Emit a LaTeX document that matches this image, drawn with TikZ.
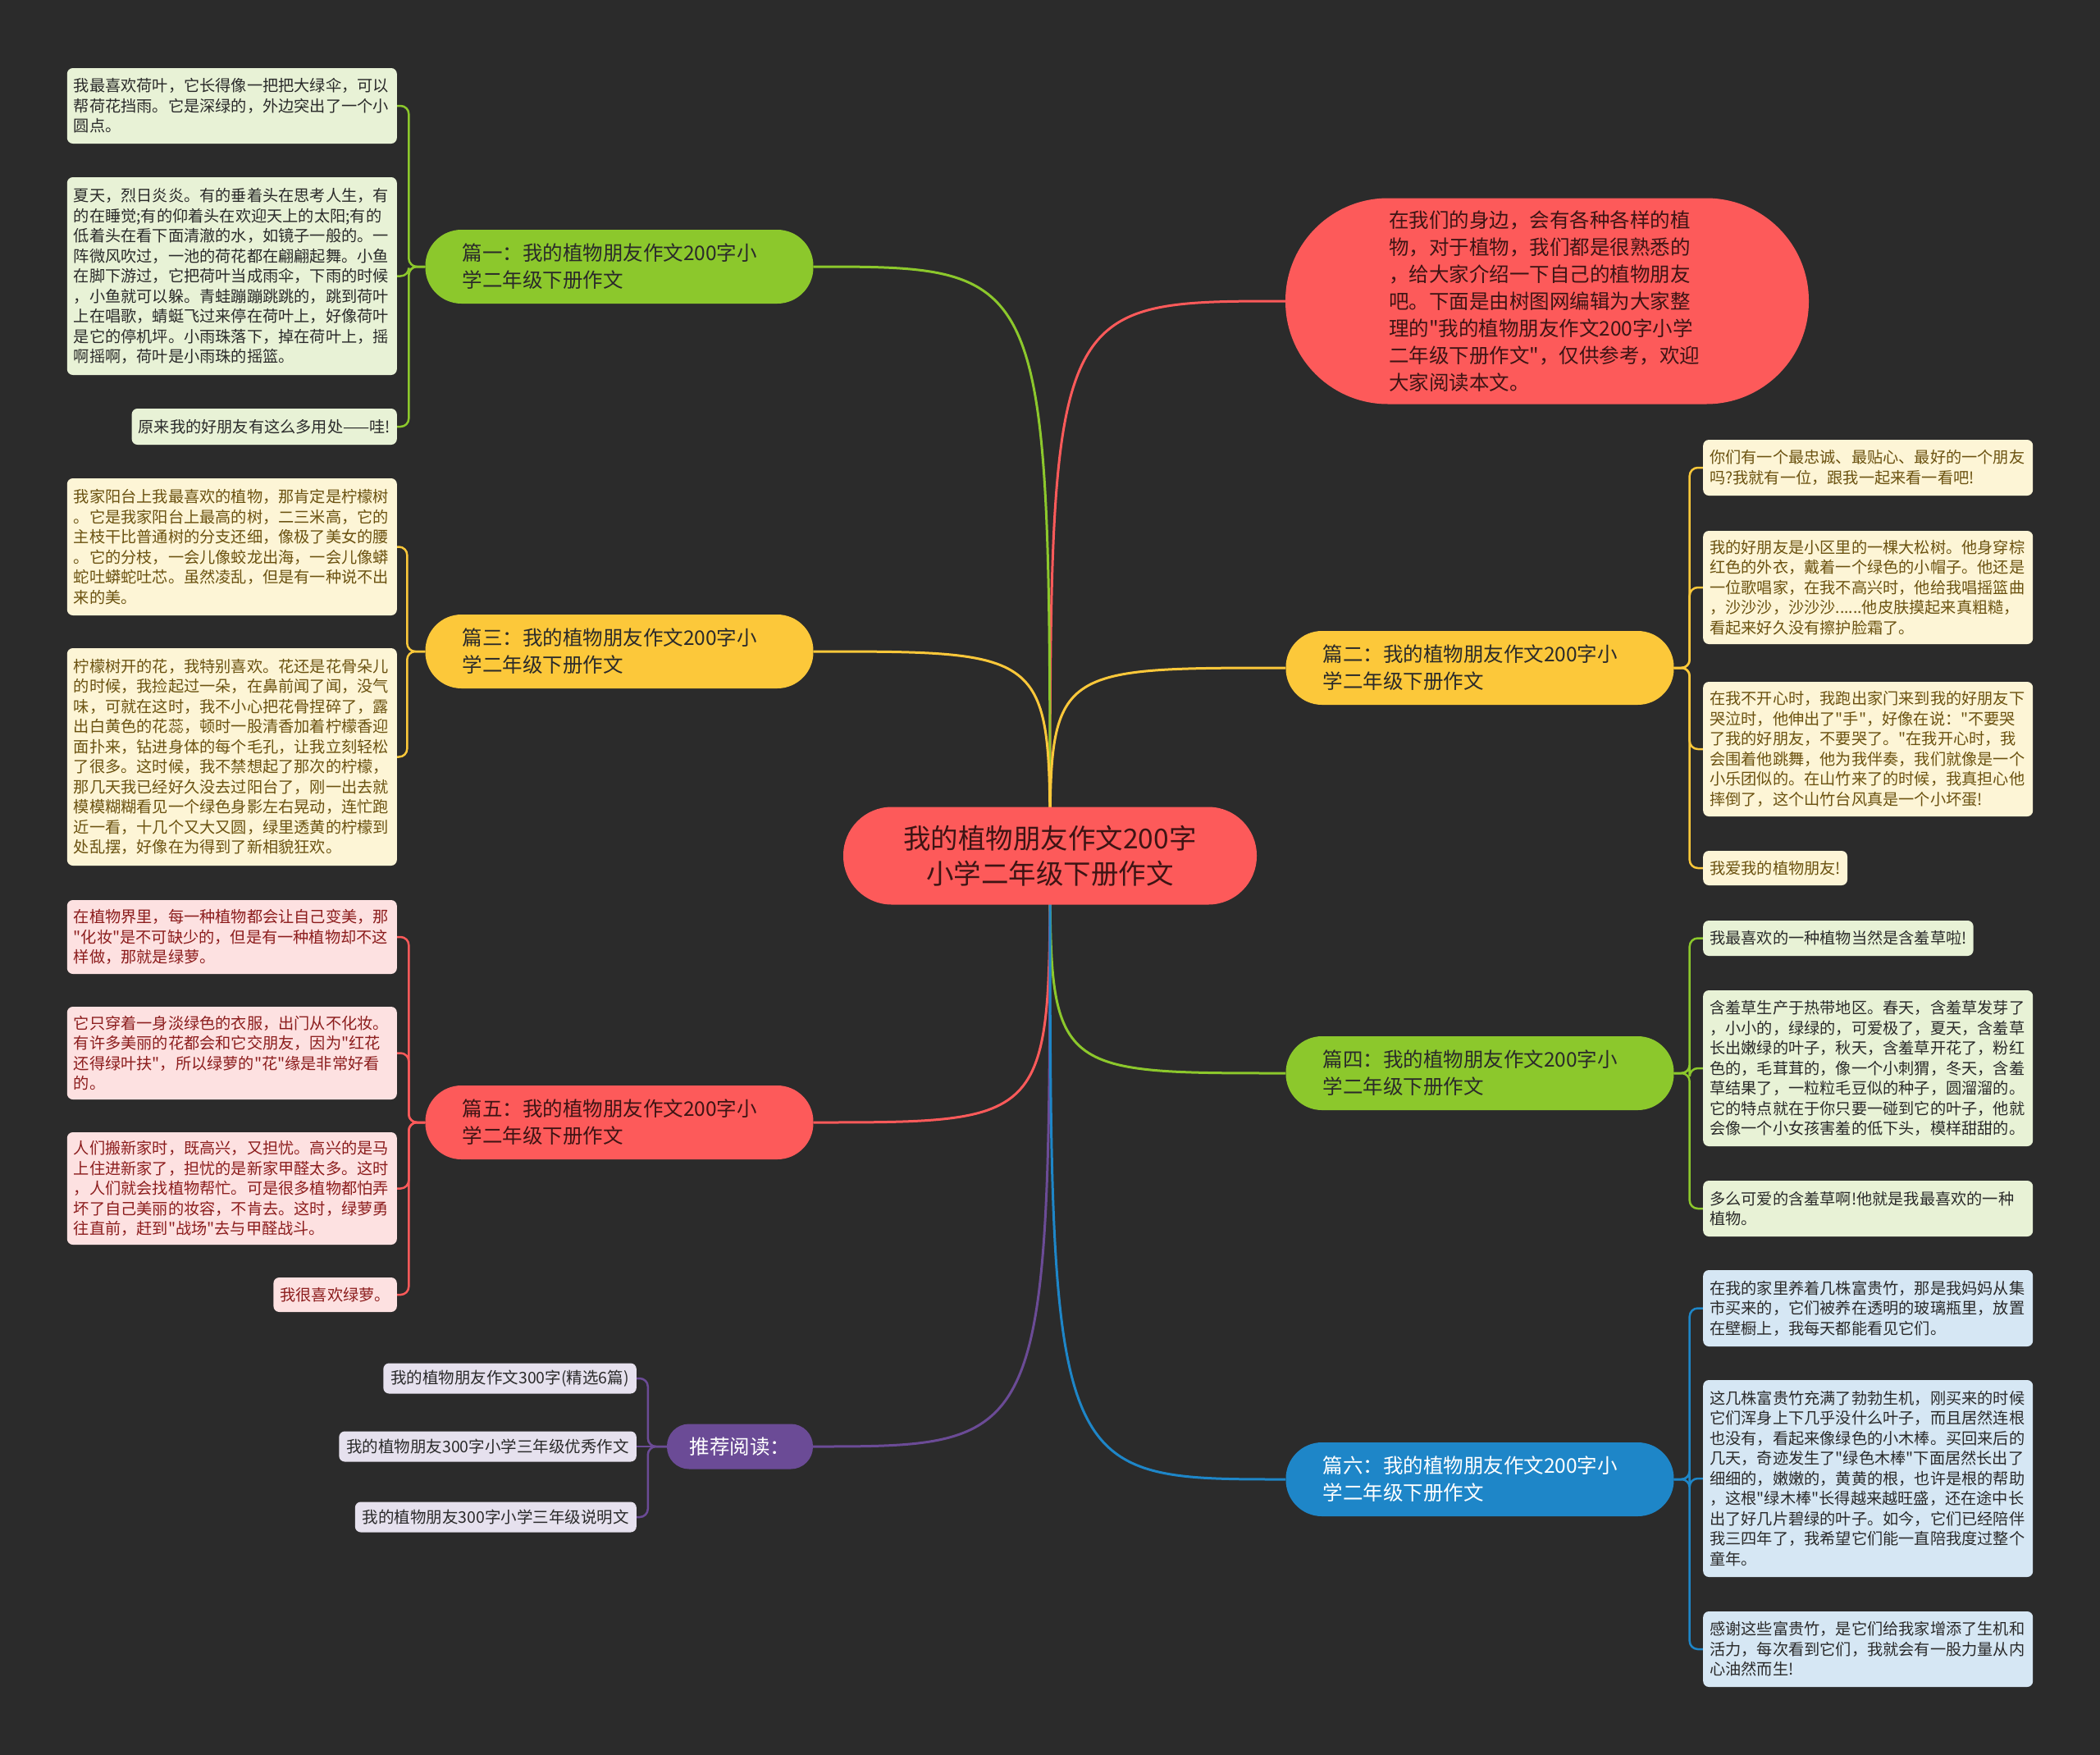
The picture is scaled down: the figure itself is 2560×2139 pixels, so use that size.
\documentclass[tikz,border=0pt]{standalone}
\usepackage{fontspec}
\newfontfamily\cjkf{Noto Sans CJK SC}
\usetikzlibrary{backgrounds}
\definecolor{bgc}{HTML}{2B2B2B}
\definecolor{grn}{HTML}{8CC82C}
\definecolor{yel}{HTML}{FCC83A}
\definecolor{red}{HTML}{FD5A5A}
\definecolor{blu}{HTML}{1E86C8}
\definecolor{pur}{HTML}{6B4B96}
\definecolor{gnf}{HTML}{E8F2D6}
\definecolor{ynf}{HTML}{FDF5D6}
\definecolor{pnf}{HTML}{FDE1E1}
\definecolor{bnf}{HTML}{D6E7F4}
\definecolor{rnf}{HTML}{E6E1EE}
\definecolor{dtxt}{HTML}{2A2A2A}
\definecolor{ytxt}{HTML}{6B5210}
\definecolor{ptxt}{HTML}{8C1D1D}
\definecolor{ctxt}{HTML}{3E1414}
\newcommand\fnote{\cjkf\fontsize{19.2pt}{24.5pt}\selectfont}
\newcommand\fbranch{\cjkf\fontsize{24.5pt}{33pt}\selectfont}
\newcommand\fcenter{\cjkf\fontsize{33.5pt}{43pt}\selectfont}
\newcommand\frec{\cjkf\fontsize{19.5pt}{24.5pt}\selectfont}
\tikzset{
  note/.style={rounded corners=7pt, inner xsep=8pt, inner ysep=2pt, align=left, font=\fnote},
  wide/.style={text width=386pt},
  gnote/.style={note, fill=gnf, text=dtxt},
  ynote/.style={note, fill=ynf, text=ytxt},
  pnote/.style={note, fill=pnf, text=ptxt},
  bnote/.style={note, fill=bnf, text=dtxt},
  rnote/.style={note, fill=rnf, text=dtxt, font=\frec, inner xsep=9pt, minimum height=37pt},
  branch/.style={rounded corners=44pt, minimum width=473pt, minimum height=90pt, text width=383pt, align=left, font=\fbranch, inner sep=0pt},
  conn/.style={line width=3pt},
  leaf/.style={line width=2.5pt, rounded corners=10pt}
}
\begin{document}
\begin{tikzpicture}[x=1pt,y=-1pt]
\useasboundingbox (0,0) rectangle (2560,2139);
% center
\node[fill=red, text=ctxt, rounded corners=59pt, minimum width=504pt, minimum height=119pt, align=center, font=\fcenter, inner sep=0pt] (c) at (1280,1043) {我的植物朋友作文200字\\小学二年级下册作文};
% intro
\node[fill=red, text=ctxt, rounded corners=125pt, minimum width=638pt, minimum height=251pt, text width=386pt, align=left, font=\fbranch, inner sep=0pt] (intro) at (1886,367) {在我们的身边，会有各种各样的植\\物，对于植物，我们都是很熟悉的\\，给大家介绍一下自己的植物朋友\\吧。下面是由树图网编辑为大家整\\理的"我的植物朋友作文200字小学\\二年级下册作文"，仅供参考，欢迎\\大家阅读本文。};
% branches
\node[branch, fill=grn, text=dtxt] (b1) at (755,325) {篇一：我的植物朋友作文200字小\\学二年级下册作文};
\node[branch, fill=yel, text=dtxt] (b3) at (755,794) {篇三：我的植物朋友作文200字小\\学二年级下册作文};
\node[branch, fill=red, text=ctxt] (b5) at (755,1368) {篇五：我的植物朋友作文200字小\\学二年级下册作文};
\node[branch, fill=yel, text=dtxt] (b2) at (1804,814) {篇二：我的植物朋友作文200字小\\学二年级下册作文};
\node[branch, fill=grn, text=dtxt] (b4) at (1804,1308) {篇四：我的植物朋友作文200字小\\学二年级下册作文};
\node[branch, fill=blu, text=white] (b6) at (1804,1803) {篇六：我的植物朋友作文200字小\\学二年级下册作文};
\node[fill=pur, text=white, rounded corners=27pt, minimum width=178pt, minimum height=55pt, font=\fbranch, inner sep=0pt] (rec) at (902,1763) {推荐阅读：};
% left green notes
\node[gnote, wide, minimum height=92pt, anchor=east] (nA) at (484,129) {我最喜欢荷叶，它长得像一把把大绿伞，可以\\帮荷花挡雨。它是深绿的，外边突出了一个小\\圆点。};
\node[gnote, wide, minimum height=241pt, anchor=east] (nB) at (484,336.5) {夏天，烈日炎炎。有的垂着头在思考人生，有\\的在睡觉;有的仰着头在欢迎天上的太阳;有的\\低着头在看下面清澈的水，如镜子一般的。一\\阵微风吹过，一池的荷花都在翩翩起舞。小鱼\\在脚下游过，它把荷叶当成雨伞，下雨的时候\\，小鱼就可以躲。青蛙蹦蹦跳跳的，跳到荷叶\\上在唱歌，蜻蜓飞过来停在荷叶上，好像荷叶\\是它的停机坪。小雨珠落下，掉在荷叶上，摇\\啊摇啊，荷叶是小雨珠的摇篮。};
\node[gnote, minimum height=44pt, anchor=east] (nC) at (484,520) {原来我的好朋友有这么多用处——哇!};
% left lemon notes
\node[ynote, wide, minimum height=167pt, anchor=east] (nD) at (484,666.5) {我家阳台上我最喜欢的植物，那肯定是柠檬树\\。它是我家阳台上最高的树，二三米高，它的\\主枝干比普通树的分支还细，像极了美女的腰\\。它的分枝，一会儿像蛟龙出海，一会儿像蟒\\蛇吐蟒蛇吐芯。虽然凌乱，但是有一种说不出\\来的美。};
\node[ynote, wide, minimum height=265pt, anchor=east] (nE) at (484,922.5) {柠檬树开的花，我特别喜欢。花还是花骨朵儿\\的时候，我捡起过一朵，在鼻前闻了闻，没气\\味，可就在这时，我不小心把花骨捏碎了，露\\出白黄色的花蕊，顿时一股清香加着柠檬香迎\\面扑来，钻进身体的每个毛孔，让我立刻轻松\\了很多。这时候，我不禁想起了那次的柠檬，\\那几天我已经好久没去过阳台了，刚一出去就\\模模糊糊看见一个绿色身影左右晃动，连忙跑\\近一看，十几个又大又圆，绿里透黄的柠檬到\\处乱摆，好像在为得到了新相貌狂欢。};
% left pink notes
\node[pnote, wide, minimum height=90pt, anchor=east] (nF) at (484,1142) {在植物界里，每一种植物都会让自己变美，那\\"化妆"是不可缺少的，但是有一种植物却不这\\样做，那就是绿萝。};
\node[pnote, wide, minimum height=113pt, anchor=east] (nG) at (484,1283.5) {它只穿着一身淡绿色的衣服，出门从不化妆。\\有许多美丽的花都会和它交朋友，因为"红花\\还得绿叶扶"，所以绿萝的"花"缘是非常好看\\的。};
\node[pnote, wide, minimum height=137pt, anchor=east] (nH) at (484,1448.5) {人们搬新家时，既高兴，又担忧。高兴的是马\\上住进新家了，担忧的是新家甲醛太多。这时\\，人们就会找植物帮忙。可是很多植物都怕弄\\坏了自己美丽的妆容，不肯去。这时，绿萝勇\\往直前，赶到"战场"去与甲醛战斗。};
\node[pnote, minimum height=42pt, anchor=east] (nI) at (484,1578) {我很喜欢绿萝。};
% recommended
\node[rnote, anchor=east] (r1) at (776,1680) {我的植物朋友作文300字(精选6篇)};
\node[rnote, anchor=east] (r2) at (776,1763) {我的植物朋友300字小学三年级优秀作文};
\node[rnote, anchor=east] (r3) at (776,1849) {我的植物朋友300字小学三年级说明文};
% right yellow notes
\node[ynote, wide, minimum height=68pt, anchor=west] (nJ) at (2076,570) {你们有一个最忠诚、最贴心、最好的一个朋友\\吗?我就有一位，跟我一起来看一看吧!};
\node[ynote, wide, minimum height=138pt, anchor=west] (nK) at (2076,716) {我的好朋友是小区里的一棵大松树。他身穿棕\\红色的外衣，戴着一个绿色的小帽子。他还是\\一位歌唱家，在我不高兴时，他给我唱摇篮曲\\，沙沙沙，沙沙沙......他皮肤摸起来真粗糙，\\看起来好久没有擦护脸霜了。};
\node[ynote, wide, minimum height=164pt, anchor=west] (nL) at (2076,913) {在我不开心时，我跑出家门来到我的好朋友下\\哭泣时，他伸出了"手"，好像在说："不要哭\\了我的好朋友，不要哭了。"在我开心时，我\\会围着他跳舞，他为我伴奏，我们就像是一个\\小乐团似的。在山竹来了的时候，我真担心他\\摔倒了，这个山竹台风真是一个小坏蛋!};
\node[ynote, minimum height=42pt, anchor=west] (nM) at (2076,1058) {我爱我的植物朋友!};
% right green notes
\node[gnote, minimum height=43pt, anchor=west] (nN) at (2076,1143.5) {我最喜欢的一种植物当然是含羞草啦!};
\node[gnote, wide, minimum height=190pt, anchor=west] (nO) at (2076,1302) {含羞草生产于热带地区。春天，含羞草发芽了\\，小小的，绿绿的，可爱极了，夏天，含羞草\\长出嫩绿的叶子，秋天，含羞草开花了，粉红\\色的，毛茸茸的，像一个小刺猬，冬天，含羞\\草结果了，一粒粒毛豆似的种子，圆溜溜的。\\它的特点就在于你只要一碰到它的叶子，他就\\会像一个小女孩害羞的低下头，模样甜甜的。};
\node[gnote, wide, minimum height=68pt, anchor=west] (nP) at (2076,1473) {多么可爱的含羞草啊!他就是我最喜欢的一种\\植物。};
% right blue notes
\node[bnote, wide, minimum height=93pt, anchor=west] (nQ) at (2076,1594.5) {在我的家里养着几株富贵竹，那是我妈妈从集\\市买来的，它们被养在透明的玻璃瓶里，放置\\在壁橱上，我每天都能看见它们。};
\node[bnote, wide, minimum height=240pt, anchor=west] (nR) at (2076,1802) {这几株富贵竹充满了勃勃生机，刚买来的时候\\它们浑身上下几乎没什么叶子，而且居然连根\\也没有，看起来像绿色的小木棒。买回来后的\\几天，奇迹发生了"绿色木棒"下面居然长出了\\细细的，嫩嫩的，黄黄的根，也许是根的帮助\\，这根"绿木棒"长得越来越旺盛，还在途中长\\出了好几片碧绿的叶子。如今，它们已经陪伴\\我三四年了，我希望它们能一直陪我度过整个\\童年。};
\node[bnote, wide, minimum height=92pt, anchor=west] (nS) at (2076,2010) {感谢这些富贵竹，是它们给我家增添了生机和\\活力，每次看到它们，我就会有一股力量从内\\心油然而生!};
\begin{pgfonlayer}{background}
\fill[bgc] (0,0) rectangle (2560,2139);
% center connectors
\draw[conn, red] (c.center) .. controls (c.center |- intro.west) .. (intro.west);
\draw[conn, grn] (c.center) .. controls (c.center |- b1.east) .. (b1.east);
\draw[conn, yel] (c.center) .. controls (c.center |- b3.east) .. (b3.east);
\draw[conn, red] (c.center) .. controls (c.center |- b5.east) .. (b5.east);
\draw[conn, pur] (c.center) .. controls (c.center |- rec.east) .. (rec.east);
\draw[conn, yel] (c.center) .. controls (c.center |- b2.west) .. (b2.west);
\draw[conn, grn] (c.center) .. controls (c.center |- b4.west) .. (b4.west);
\draw[conn, blu] (c.center) .. controls (c.center |- b6.west) .. (b6.west);
% leaf connectors left
\foreach \n in {nA,nB,nC} \draw[leaf, grn] (b1.west) -- ++(-20,0) |- (\n.east);
\foreach \n in {nD,nE} \draw[leaf, yel] (b3.west) -- ++(-22,0) |- (\n.east);
\foreach \n in {nF,nG,nH,nI} \draw[leaf, red] (b5.west) -- ++(-20,0) |- (\n.east);
\foreach \n in {r1,r3} \draw[leaf, pur] (rec.west) -- ++(-23,0) |- (\n.east);
\draw[leaf, pur] (rec.west) -- (r2.east);
% leaf connectors right
\foreach \n in {nJ,nK,nL,nM} \draw[leaf, yel] (b2.east) -- ++(19,0) |- (\n.west);
\foreach \n in {nN,nO,nP} \draw[leaf, grn] (b4.east) -- ++(19,0) |- (\n.west);
\foreach \n in {nQ,nR,nS} \draw[leaf, blu] (b6.east) -- ++(19,0) |- (\n.west);
\end{pgfonlayer}
\end{tikzpicture}
\end{document}
